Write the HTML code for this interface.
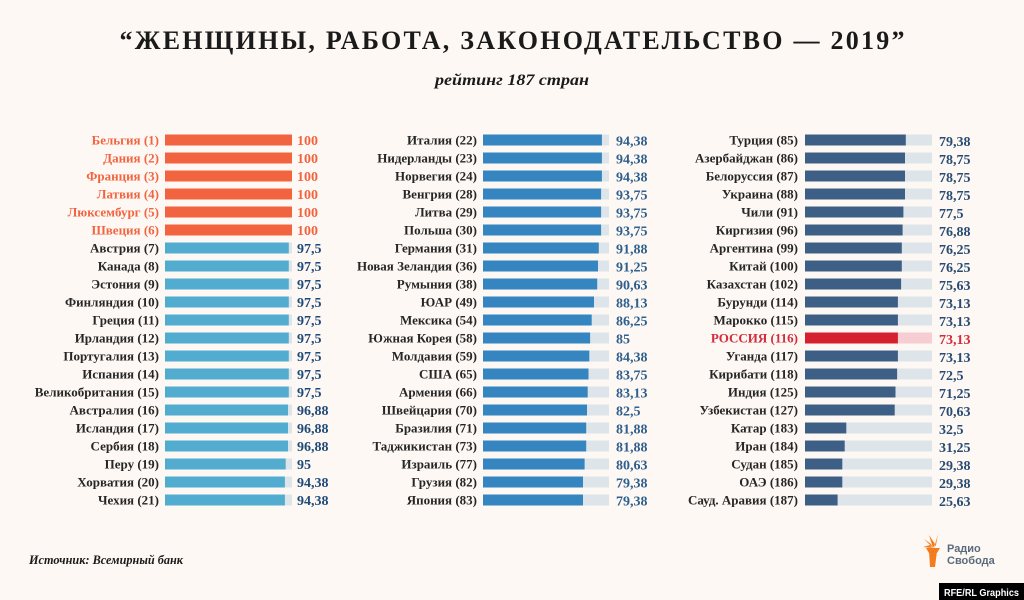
<!DOCTYPE html>
<html><head><meta charset="utf-8"><style>
html,body{margin:0;padding:0;background:#fdf8f3;}
svg{display:block;}
.l{font-family:"Liberation Serif",serif;font-weight:bold;font-size:13px;fill:#262626;text-anchor:end;}
.o{fill:#f26440;}
.v{font-family:"Liberation Serif",serif;font-weight:bold;font-size:14px;}
.v1{fill:#1f4a78;}
.v2{fill:#2f5f8e;}
.v3{fill:#284b73;}
.tr{fill:#dde4ea;}
.b1{fill:#52acd0;}
.b2{fill:#3585c1;}
.b3{fill:#3e5f85;}
.bo{fill:#f26440;}
</style></head><body>
<svg width="1024" height="600" viewBox="0 0 1024 600" xmlns="http://www.w3.org/2000/svg">
<rect width="1024" height="600" fill="#fdf8f3"/>
<text x="512" y="49" text-anchor="middle" font-family="Liberation Serif, serif" font-weight="bold" font-size="26" fill="#1a1a1a" textLength="785" lengthAdjust="spacing">“ЖЕНЩИНЫ, РАБОТА, ЗАКОНОДАТЕЛЬСТВО — 2019”</text>
<text x="512" y="85" text-anchor="middle" font-family="Liberation Serif, serif" font-weight="bold" font-style="italic" font-size="16" fill="#1a1a1a" textLength="154" lengthAdjust="spacingAndGlyphs">рейтинг 187 стран</text>

<!-- Column 1 -->
<g>
<rect class="bo" x="165" y="134.5" width="127" height="11"/><text class="l o" x="159" y="144.5">Бельгия (1)</text><text class="v o" x="297" y="145">100</text>
<rect class="bo" x="165" y="152.5" width="127" height="11"/><text class="l o" x="159" y="162.5">Дания (2)</text><text class="v o" x="297" y="163">100</text>
<rect class="bo" x="165" y="170.5" width="127" height="11"/><text class="l o" x="159" y="180.5">Франция (3)</text><text class="v o" x="297" y="181">100</text>
<rect class="bo" x="165" y="188.5" width="127" height="11"/><text class="l o" x="159" y="198.5">Латвия (4)</text><text class="v o" x="297" y="199">100</text>
<rect class="bo" x="165" y="206.5" width="127" height="11"/><text class="l o" x="159" y="216.5">Люксембург (5)</text><text class="v o" x="297" y="217">100</text>
<rect class="bo" x="165" y="224.5" width="127" height="11"/><text class="l o" x="159" y="234.5">Швеция (6)</text><text class="v o" x="297" y="235">100</text>

<rect class="tr" x="165" y="242.5" width="127" height="11"/><rect class="b1" x="165" y="242.5" width="123.8" height="11"/><text class="l" x="159" y="252.5">Австрия (7)</text><text class="v v1" x="297" y="253">97,5</text>
<rect class="tr" x="165" y="260.5" width="127" height="11"/><rect class="b1" x="165" y="260.5" width="123.8" height="11"/><text class="l" x="159" y="270.5">Канада (8)</text><text class="v v1" x="297" y="271">97,5</text>
<rect class="tr" x="165" y="278.5" width="127" height="11"/><rect class="b1" x="165" y="278.5" width="123.8" height="11"/><text class="l" x="159" y="288.5">Эстония (9)</text><text class="v v1" x="297" y="289">97,5</text>
<rect class="tr" x="165" y="296.5" width="127" height="11"/><rect class="b1" x="165" y="296.5" width="123.8" height="11"/><text class="l" x="159" y="306.5">Финляндия (10)</text><text class="v v1" x="297" y="307">97,5</text>
<rect class="tr" x="165" y="314.5" width="127" height="11"/><rect class="b1" x="165" y="314.5" width="123.8" height="11"/><text class="l" x="159" y="324.5">Греция (11)</text><text class="v v1" x="297" y="325">97,5</text>
<rect class="tr" x="165" y="332.5" width="127" height="11"/><rect class="b1" x="165" y="332.5" width="123.8" height="11"/><text class="l" x="159" y="342.5">Ирландия (12)</text><text class="v v1" x="297" y="343">97,5</text>
<rect class="tr" x="165" y="350.5" width="127" height="11"/><rect class="b1" x="165" y="350.5" width="123.8" height="11"/><text class="l" x="159" y="360.5">Португалия (13)</text><text class="v v1" x="297" y="361">97,5</text>
<rect class="tr" x="165" y="368.5" width="127" height="11"/><rect class="b1" x="165" y="368.5" width="123.8" height="11"/><text class="l" x="159" y="378.5">Испания (14)</text><text class="v v1" x="297" y="379">97,5</text>
<rect class="tr" x="165" y="386.5" width="127" height="11"/><rect class="b1" x="165" y="386.5" width="123.8" height="11"/><text class="l" x="159" y="396.5">Великобритания (15)</text><text class="v v1" x="297" y="397">97,5</text>
<rect class="tr" x="165" y="404.5" width="127" height="11"/><rect class="b1" x="165" y="404.5" width="123.0" height="11"/><text class="l" x="159" y="414.5">Австралия (16)</text><text class="v v1" x="297" y="415">96,88</text>
<rect class="tr" x="165" y="422.5" width="127" height="11"/><rect class="b1" x="165" y="422.5" width="123.0" height="11"/><text class="l" x="159" y="432.5">Исландия (17)</text><text class="v v1" x="297" y="433">96,88</text>
<rect class="tr" x="165" y="440.5" width="127" height="11"/><rect class="b1" x="165" y="440.5" width="123.0" height="11"/><text class="l" x="159" y="450.5">Сербия (18)</text><text class="v v1" x="297" y="451">96,88</text>
<rect class="tr" x="165" y="458.5" width="127" height="11"/><rect class="b1" x="165" y="458.5" width="120.7" height="11"/><text class="l" x="159" y="468.5">Перу (19)</text><text class="v v1" x="297" y="469">95</text>
<rect class="tr" x="165" y="476.5" width="127" height="11"/><rect class="b1" x="165" y="476.5" width="119.9" height="11"/><text class="l" x="159" y="486.5">Хорватия (20)</text><text class="v v1" x="297" y="487">94,38</text>
<rect class="tr" x="165" y="494.5" width="127" height="11"/><rect class="b1" x="165" y="494.5" width="119.9" height="11"/><text class="l" x="159" y="504.5">Чехия (21)</text><text class="v v1" x="297" y="505">94,38</text>
</g>

<!-- Column 2 -->
<g>
<rect class="tr" x="483" y="134.5" width="126" height="11"/><rect class="b2" x="483" y="134.5" width="118.9" height="11"/><text class="l" x="477" y="144.5">Италия (22)</text><text class="v v2" x="616" y="145.5">94,38</text>
<rect class="tr" x="483" y="152.5" width="126" height="11"/><rect class="b2" x="483" y="152.5" width="118.9" height="11"/><text class="l" x="477" y="162.5">Нидерланды (23)</text><text class="v v2" x="616" y="163.5">94,38</text>
<rect class="tr" x="483" y="170.5" width="126" height="11"/><rect class="b2" x="483" y="170.5" width="118.9" height="11"/><text class="l" x="477" y="180.5">Норвегия (24)</text><text class="v v2" x="616" y="181.5">94,38</text>
<rect class="tr" x="483" y="188.5" width="126" height="11"/><rect class="b2" x="483" y="188.5" width="118.1" height="11"/><text class="l" x="477" y="198.5">Венгрия (28)</text><text class="v v2" x="616" y="199.5">93,75</text>
<rect class="tr" x="483" y="206.5" width="126" height="11"/><rect class="b2" x="483" y="206.5" width="118.1" height="11"/><text class="l" x="477" y="216.5">Литва (29)</text><text class="v v2" x="616" y="217.5">93,75</text>
<rect class="tr" x="483" y="224.5" width="126" height="11"/><rect class="b2" x="483" y="224.5" width="118.1" height="11"/><text class="l" x="477" y="234.5">Польша (30)</text><text class="v v2" x="616" y="235.5">93,75</text>
<rect class="tr" x="483" y="242.5" width="126" height="11"/><rect class="b2" x="483" y="242.5" width="115.8" height="11"/><text class="l" x="477" y="252.5">Германия (31)</text><text class="v v2" x="616" y="253.5">91,88</text>
<rect class="tr" x="483" y="260.5" width="126" height="11"/><rect class="b2" x="483" y="260.5" width="115.0" height="11"/><text class="l" x="477" y="270.5">Новая Зеландия (36)</text><text class="v v2" x="616" y="271.5">91,25</text>
<rect class="tr" x="483" y="278.5" width="126" height="11"/><rect class="b2" x="483" y="278.5" width="114.2" height="11"/><text class="l" x="477" y="288.5">Румыния (38)</text><text class="v v2" x="616" y="289.5">90,63</text>
<rect class="tr" x="483" y="296.5" width="126" height="11"/><rect class="b2" x="483" y="296.5" width="111.0" height="11"/><text class="l" x="477" y="306.5">ЮАР (49)</text><text class="v v2" x="616" y="307.5">88,13</text>
<rect class="tr" x="483" y="314.5" width="126" height="11"/><rect class="b2" x="483" y="314.5" width="108.7" height="11"/><text class="l" x="477" y="324.5">Мексика (54)</text><text class="v v2" x="616" y="325.5">86,25</text>
<rect class="tr" x="483" y="332.5" width="126" height="11"/><rect class="b2" x="483" y="332.5" width="107.1" height="11"/><text class="l" x="477" y="342.5">Южная Корея (58)</text><text class="v v2" x="616" y="343.5">85</text>
<rect class="tr" x="483" y="350.5" width="126" height="11"/><rect class="b2" x="483" y="350.5" width="106.3" height="11"/><text class="l" x="477" y="360.5">Молдавия (59)</text><text class="v v2" x="616" y="361.5">84,38</text>
<rect class="tr" x="483" y="368.5" width="126" height="11"/><rect class="b2" x="483" y="368.5" width="105.5" height="11"/><text class="l" x="477" y="378.5">США (65)</text><text class="v v2" x="616" y="379.5">83,75</text>
<rect class="tr" x="483" y="386.5" width="126" height="11"/><rect class="b2" x="483" y="386.5" width="104.7" height="11"/><text class="l" x="477" y="396.5">Армения (66)</text><text class="v v2" x="616" y="397.5">83,13</text>
<rect class="tr" x="483" y="404.5" width="126" height="11"/><rect class="b2" x="483" y="404.5" width="104.0" height="11"/><text class="l" x="477" y="414.5">Швейцария (70)</text><text class="v v2" x="616" y="415.5">82,5</text>
<rect class="tr" x="483" y="422.5" width="126" height="11"/><rect class="b2" x="483" y="422.5" width="103.2" height="11"/><text class="l" x="477" y="432.5">Бразилия (71)</text><text class="v v2" x="616" y="433.5">81,88</text>
<rect class="tr" x="483" y="440.5" width="126" height="11"/><rect class="b2" x="483" y="440.5" width="103.2" height="11"/><text class="l" x="477" y="450.5">Таджикистан (73)</text><text class="v v2" x="616" y="451.5">81,88</text>
<rect class="tr" x="483" y="458.5" width="126" height="11"/><rect class="b2" x="483" y="458.5" width="101.6" height="11"/><text class="l" x="477" y="468.5">Израиль (77)</text><text class="v v2" x="616" y="469.5">80,63</text>
<rect class="tr" x="483" y="476.5" width="126" height="11"/><rect class="b2" x="483" y="476.5" width="100.0" height="11"/><text class="l" x="477" y="486.5">Грузия (82)</text><text class="v v2" x="616" y="487.5">79,38</text>
<rect class="tr" x="483" y="494.5" width="126" height="11"/><rect class="b2" x="483" y="494.5" width="100.0" height="11"/><text class="l" x="477" y="504.5">Япония (83)</text><text class="v v2" x="616" y="505.5">79,38</text>
</g>

<!-- Column 3 -->
<g>
<rect class="tr" x="805" y="134.5" width="127" height="11"/><rect class="b3" x="805" y="134.5" width="100.8" height="11"/><text class="l" x="798" y="144.5">Турция (85)</text><text class="v v3" x="939" y="146">79,38</text>
<rect class="tr" x="805" y="152.5" width="127" height="11"/><rect class="b3" x="805" y="152.5" width="100.0" height="11"/><text class="l" x="798" y="162.5">Азербайджан (86)</text><text class="v v3" x="939" y="164">78,75</text>
<rect class="tr" x="805" y="170.5" width="127" height="11"/><rect class="b3" x="805" y="170.5" width="100.0" height="11"/><text class="l" x="798" y="180.5">Белоруссия (87)</text><text class="v v3" x="939" y="182">78,75</text>
<rect class="tr" x="805" y="188.5" width="127" height="11"/><rect class="b3" x="805" y="188.5" width="100.0" height="11"/><text class="l" x="798" y="198.5">Украина (88)</text><text class="v v3" x="939" y="200">78,75</text>
<rect class="tr" x="805" y="206.5" width="127" height="11"/><rect class="b3" x="805" y="206.5" width="98.4" height="11"/><text class="l" x="798" y="216.5">Чили (91)</text><text class="v v3" x="939" y="218">77,5</text>
<rect class="tr" x="805" y="224.5" width="127" height="11"/><rect class="b3" x="805" y="224.5" width="97.6" height="11"/><text class="l" x="798" y="234.5">Киргизия (96)</text><text class="v v3" x="939" y="236">76,88</text>
<rect class="tr" x="805" y="242.5" width="127" height="11"/><rect class="b3" x="805" y="242.5" width="96.8" height="11"/><text class="l" x="798" y="252.5">Аргентина (99)</text><text class="v v3" x="939" y="254">76,25</text>
<rect class="tr" x="805" y="260.5" width="127" height="11"/><rect class="b3" x="805" y="260.5" width="96.8" height="11"/><text class="l" x="798" y="270.5">Китай (100)</text><text class="v v3" x="939" y="272">76,25</text>
<rect class="tr" x="805" y="278.5" width="127" height="11"/><rect class="b3" x="805" y="278.5" width="96.1" height="11"/><text class="l" x="798" y="288.5">Казахстан (102)</text><text class="v v3" x="939" y="290">75,63</text>
<rect class="tr" x="805" y="296.5" width="127" height="11"/><rect class="b3" x="805" y="296.5" width="92.9" height="11"/><text class="l" x="798" y="306.5">Бурунди (114)</text><text class="v v3" x="939" y="308">73,13</text>
<rect class="tr" x="805" y="314.5" width="127" height="11"/><rect class="b3" x="805" y="314.5" width="92.9" height="11"/><text class="l" x="798" y="324.5">Марокко (115)</text><text class="v v3" x="939" y="326">73,13</text>
<rect fill="#f6cdd3" x="805" y="332.5" width="127" height="11"/><rect fill="#d4202f" x="805" y="332.5" width="92.9" height="11"/><text class="l" x="798" y="342.5" style="fill:#d42a3a">РОССИЯ (116)</text><text class="v" x="939" y="344" fill="#d42a3a">73,13</text>
<rect class="tr" x="805" y="350.5" width="127" height="11"/><rect class="b3" x="805" y="350.5" width="92.9" height="11"/><text class="l" x="798" y="360.5">Уганда (117)</text><text class="v v3" x="939" y="362">73,13</text>
<rect class="tr" x="805" y="368.5" width="127" height="11"/><rect class="b3" x="805" y="368.5" width="92.1" height="11"/><text class="l" x="798" y="378.5">Кирибати (118)</text><text class="v v3" x="939" y="380">72,5</text>
<rect class="tr" x="805" y="386.5" width="127" height="11"/><rect class="b3" x="805" y="386.5" width="90.5" height="11"/><text class="l" x="798" y="396.5">Индия (125)</text><text class="v v3" x="939" y="398">71,25</text>
<rect class="tr" x="805" y="404.5" width="127" height="11"/><rect class="b3" x="805" y="404.5" width="89.7" height="11"/><text class="l" x="798" y="414.5">Узбекистан (127)</text><text class="v v3" x="939" y="416">70,63</text>
<rect class="tr" x="805" y="422.5" width="127" height="11"/><rect class="b3" x="805" y="422.5" width="41.3" height="11"/><text class="l" x="798" y="432.5">Катар (183)</text><text class="v v3" x="939" y="434">32,5</text>
<rect class="tr" x="805" y="440.5" width="127" height="11"/><rect class="b3" x="805" y="440.5" width="39.7" height="11"/><text class="l" x="798" y="450.5">Иран (184)</text><text class="v v3" x="939" y="452">31,25</text>
<rect class="tr" x="805" y="458.5" width="127" height="11"/><rect class="b3" x="805" y="458.5" width="37.3" height="11"/><text class="l" x="798" y="468.5">Судан (185)</text><text class="v v3" x="939" y="470">29,38</text>
<rect class="tr" x="805" y="476.5" width="127" height="11"/><rect class="b3" x="805" y="476.5" width="37.3" height="11"/><text class="l" x="798" y="486.5">ОАЭ (186)</text><text class="v v3" x="939" y="488">29,38</text>
<rect class="tr" x="805" y="494.5" width="127" height="11"/><rect class="b3" x="805" y="494.5" width="32.6" height="11"/><text class="l" x="798" y="504.5">Сауд. Аравия (187)</text><text class="v v3" x="939" y="506">25,63</text>
</g>

<!-- Source -->
<text x="29" y="564" font-family="Liberation Serif, serif" font-weight="bold" font-style="italic" font-size="13" fill="#1a1a1a" textLength="154" lengthAdjust="spacingAndGlyphs">Источник: Всемирный банк</text>

<!-- Logo -->
<g fill="#f47c20">
<polygon points="930,567 935,567 937,551 929,551"/>
<polygon points="926,548 940,548 937,553 929,553"/>
<polygon points="933,548 924,539 931,544"/>
<polygon points="933,548 929,535 935,544"/>
<polygon points="934,548 938,534 936,545"/>
<polygon points="935,548 944,539 937,546"/>
<polygon points="932,548 923,547 930,545"/>
</g>
<text x="947" y="552" font-family="Liberation Sans, sans-serif" font-weight="bold" font-size="11" fill="#5a6b7b">Радио</text>
<text x="947" y="564" font-family="Liberation Sans, sans-serif" font-weight="bold" font-size="11" fill="#5a6b7b">Свобода</text>

<!-- RFE/RL box -->
<rect x="939" y="583" width="85" height="17" fill="#000"/>
<text x="944" y="596" font-family="Liberation Sans, sans-serif" font-weight="bold" font-size="10.5" fill="#fff" textLength="75" lengthAdjust="spacingAndGlyphs">RFE/RL Graphics</text>
</svg>
</body></html>
